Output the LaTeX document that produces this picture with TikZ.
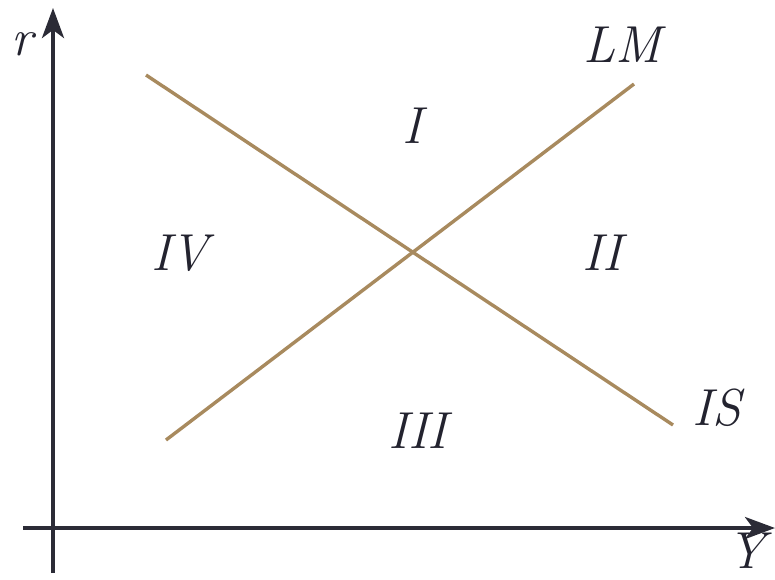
\documentclass[tikz,border=0pt]{standalone}
\usetikzlibrary{arrows.meta}
\definecolor{axiscol}{HTML}{2B2B36}
\definecolor{curvecol}{HTML}{A88A5E}
\definecolor{textcol}{HTML}{23232F}
\begin{document}
\begin{tikzpicture}[x=1pt,y=-1pt,
  axis/.style={draw=axiscol,line width=4pt,-{Stealth[length=30pt,width=22pt,inset=8pt]}},
  curve/.style={draw=curvecol,line width=3.4pt},
  lbl/.style={text=textcol,font=\fontsize{52}{52}\selectfont\itshape,inner sep=0pt,anchor=base}]
\useasboundingbox (0,0) rectangle (775,579);
\coordinate (yb) at (53,573);
\coordinate (yt) at (53,8);
\coordinate (xl) at (23,528);
\coordinate (xr) at (775,528);
\draw[axis] (yb) -- (yt);
\draw[axis] (xl) -- (xr);
\coordinate (is1) at (146,75);
\coordinate (is2) at (673,425);
\coordinate (lm1) at (166,440);
\coordinate (lm2) at (634,84);
\draw[curve] (is1) -- (is2);
\draw[curve] (lm1) -- (lm2);
\node[lbl] (r) at (22,55) {r};
\node[lbl] (Y) at (746,568) {Y};
\node[lbl] (LM) at (622,62) {LM};
\node[lbl] (IS) at (717,425) {IS};
\node[lbl] (I) at (412,143) {I};
\node[lbl] (II) at (602,270) {II};
\node[lbl] (III) at (418,448) {III};
\node[lbl] (IV) at (180,270) {IV};
\end{tikzpicture}
\end{document}
